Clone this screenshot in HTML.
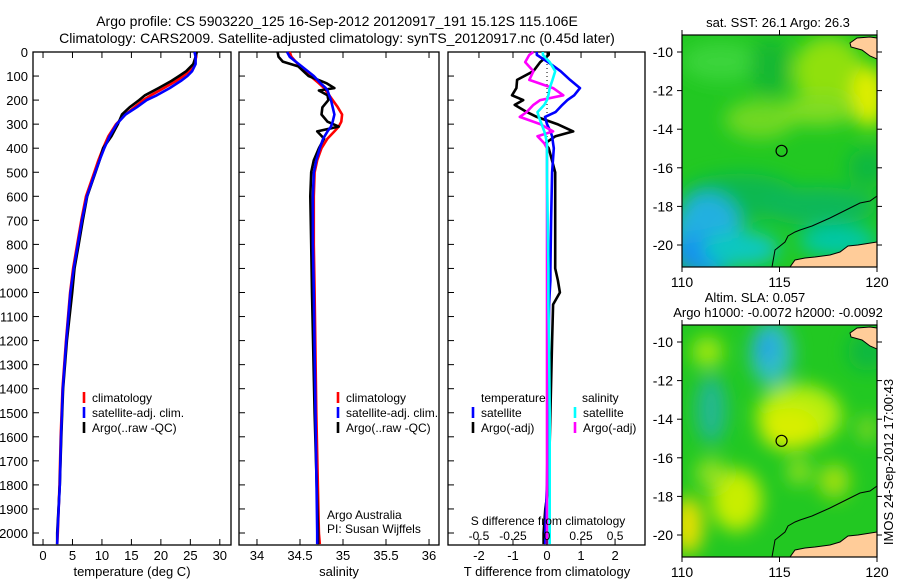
<!DOCTYPE html>
<html><head><meta charset="utf-8"><style>
html,body{margin:0;padding:0;background:#fff}
svg text{font-family:"Liberation Sans",sans-serif;fill:#000}
</style></head><body>
<svg id="fig" width="900" height="580" viewBox="0 0 900 580" xmlns="http://www.w3.org/2000/svg">
<defs>
<filter id="blur" x="-20%" y="-20%" width="140%" height="140%"><feGaussianBlur stdDeviation="9"/></filter>
<clipPath id="clipTop"><rect x="682" y="35" width="195" height="232"/></clipPath>
<clipPath id="clipBot"><rect x="682" y="325" width="195" height="232"/></clipPath>
</defs>
<text x="337" y="26" font-size="14" text-anchor="middle">Argo profile: CS 5903220_125 16-Sep-2012 20120917_191 15.12S 115.106E</text>
<text x="337" y="43" font-size="14" text-anchor="middle">Climatology: CARS2009. Satellite-adjusted climatology: synTS_20120917.nc (0.45d later)</text>
<g id="panels"></g>
<g id="maps"></g>
</svg>
<script>
// ---- data ----
const tDepths=[0,20,50,80,100,120,150,180,200,230,260,300,350,400,450,500,600,700,800,900,1000,1200,1400,1600,1800,2000,2046];
const climT=[26,26,25.7,24.8,23.8,22.6,20.5,18.3,17,15.5,14,12.4,11.1,10.2,9.4,8.7,7.3,6.5,5.8,5.1,4.6,3.9,3.3,3.0,2.8,2.5,2.4];
const satT=[25.7,25.9,25.9,25.3,24.5,23.4,21.5,19.3,17.6,15.9,14.0,12.5,11.3,10.4,9.6,8.85,7.45,6.6,5.9,5.2,4.65,3.95,3.35,3.05,2.85,2.45,2.4];
const argoT=[26.1,25.9,25.5,24.3,23.1,21.8,19.6,17.3,16.3,14.7,13.4,12.7,11.6,10.2,9.6,8.9,7.5,6.75,6.05,5.35,4.95,4.05,3.4,3.1,2.85,2.4,2.4];
const sDepths=[0,20,40,60,100,130,150,160,180,200,230,260,290,310,330,360,400,450,500,600,800,1000,1500,2000,2046];
const climS=[34.38,34.4,34.45,34.5,34.62,34.72,34.78,34.8,34.84,34.88,34.94,34.99,34.98,34.95,34.9,34.82,34.75,34.7,34.67,34.66,34.66,34.67,34.69,34.72,34.73];
const satS=[34.35,34.38,34.45,34.52,34.66,34.74,34.8,34.82,34.84,34.86,34.88,34.9,34.88,34.86,34.82,34.77,34.73,34.69,34.66,34.65,34.65,34.66,34.68,34.7,34.7];
const argoS=[34.24,34.25,34.3,34.48,34.6,34.81,34.9,34.72,34.82,34.83,34.76,34.75,34.82,34.95,34.7,34.78,34.72,34.66,34.63,34.62,34.63,34.64,34.67,34.71,34.71];
const dDepths=[0,12,42,80,116,150,180,200,220,250,270,300,330,350,380,400,500,700,900,950,1000,1050,1200,1500,1800,1900,2000,2046];
const satTd=[-0.3,-0.3,0.03,0.4,0.68,0.97,0.8,0.6,0.45,0.25,-0.06,0.0,0.1,0.15,0.18,0.2,0.15,0.12,0.1,0.1,0.08,0.06,0.05,0.03,0.0,-0.03,-0.05,-0.05];
const argoTd=[0.05,0.05,-0.2,-0.4,-0.88,-0.9,-1.03,-0.7,-0.95,-0.59,-0.3,0.3,0.77,0.25,-0.06,0.05,0.24,0.24,0.24,0.32,0.38,0.18,0.15,0.1,0.05,-0.05,-0.1,-0.1];
const satSd=[-0.03,-0.03,0.02,0.06,0.04,0.02,0.01,0.0,-0.02,-0.07,-0.06,-0.04,-0.02,-0.01,0,0,0,0.005,0.01,0.01,0.01,0.01,0.015,0.02,0.02,0.02,0.02,0.02];
const argoSd=[-0.1,-0.13,-0.16,-0.1,-0.13,0.045,0.12,-0.05,-0.1,-0.15,-0.2,-0.05,0.045,-0.07,-0.02,0,0,0,0,0,0,0,0,0,0,0,0,0];
const depthTicks=[0,100,200,300,400,500,600,700,800,900,1000,1100,1200,1300,1400,1500,1600,1700,1800,1900,2000];
const tTicks=[0,5,10,15,20,25,30];
const sTicks=[34,34.5,35,35.5,36];
const sTickLabels=["34","34.5","35","35.5","36"];
const dTTicks=[-2,-1,0,1,2];
const dSTicks=[-0.5,-0.25,0,0.25,0.5];
const dSTickLabels=["-0.5","-0.25","0","0.25","0.5"];
const lonTicks=[110,115,120];
const latTicks=[-10,-12,-14,-16,-18,-20];

const NS='http://www.w3.org/2000/svg';
function mk(tag,attrs,parent){const e=document.createElementNS(NS,tag);for(const k in attrs)e.setAttribute(k,attrs[k]);parent.appendChild(e);return e;}
const TOP=52,BOT=545;
function yD(d){return TOP+d*0.2405;}
const panels=document.getElementById('panels');

function panel(name,x0,x1,xmin,xmax){
  const g=mk('g',{},panels);
  
  
  const fx=v=>x0+(v-xmin)/(xmax-xmin)*(x1-x0);
  const r=mk('rect',{x:x0,y:TOP,width:x1-x0,height:BOT-TOP,fill:'none',stroke:'#000','stroke-width':1.3},g);
  
  
  depthTicks.forEach(d=>{mk('line',{x1:x0,x2:x0+6,y1:yD(d),y2:yD(d),stroke:'#000'},g);});
  return {g,fx};
}
function line(p,xs,ds,color,name,fx){
  const pts=xs.map((v,i)=>fx(v).toFixed(1)+','+yD(ds[i]).toFixed(1)).join(' ');
  const pl=mk('polyline',{points:pts,fill:'none',stroke:color,'stroke-width':2.6,'stroke-linejoin':'round'},p.g);
  
  
}
function xticks(p,vals,labels,y,name,fx){
  vals.forEach((v,i)=>{
    const x=fx(v);
    mk('line',{x1:x,x2:x,y1:TOP,y2:TOP+6,stroke:'#000'},p.g);
    mk('line',{x1:x,x2:x,y1:BOT,y2:BOT-6,stroke:'#000'},p.g);
    const t=mk('text',{x:x,y:y,'font-size':13,'text-anchor':'middle'},p.g);
    t.textContent=labels[i];
    
    
  });
}
function txt(parent,x,y,s,str,name,anchor){
  const t=mk('text',{x:x,y:y,'font-size':s,'text-anchor':anchor||'start'},parent);
  t.textContent=str;
  
  
  return t;
}
function legend(p,x,y,color,label,name){
  mk('line',{x1:x,x2:x,y1:y-10,y2:y+1,stroke:color,'stroke-width':2.6},p.g);
  txt(p.g,x+8,y,12,label,name);
}

// Panel 1 temperature
const p1=panel('temperature-panel',33,231,-1.7,31.9);
line(p1,climT,tDepths,'#ff0000','climatology-temp-line',p1.fx);
line(p1,argoT,tDepths,'#000000','argo-temp-line',p1.fx);
line(p1,satT,tDepths,'#0000ff','satellite-temp-line',p1.fx);
xticks(p1,tTicks,tTicks.map(String),560,'temperature-x',p1.fx);
depthTicks.forEach(d=>txt(p1.g,28,yD(d)+5,13,String(d),'depth-tick-label','end'));
txt(p1.g,132,576,13,'temperature (deg C)','temperature-axis-title','middle');
legend(p1,84,402,'#ff0000','climatology','legend-climatology');
legend(p1,84,417,'#0000ff','satellite-adj. clim.','legend-satellite');
legend(p1,84,432,'#000000','Argo(..raw -QC)','legend-argo');

// Panel 2 salinity
const p2=panel('salinity-panel',239,439,33.791,36.116);
line(p2,climS,sDepths,'#ff0000','climatology-salinity-line',p2.fx);
line(p2,argoS,sDepths,'#000000','argo-salinity-line',p2.fx);
line(p2,satS,sDepths,'#0000ff','satellite-salinity-line',p2.fx);
xticks(p2,sTicks,sTickLabels,560,'salinity-x',p2.fx);
txt(p2.g,339,576,13,'salinity','salinity-axis-title','middle');
legend(p2,338,402,'#ff0000','climatology','legend-climatology-2');
legend(p2,338,417,'#0000ff','satellite-adj. clim.','legend-satellite-2');
legend(p2,338,432,'#000000','Argo(..raw -QC)','legend-argo-2');
txt(p2.g,327,519,12,'Argo Australia','credit-argo-australia');
txt(p2.g,327,533,12,'PI: Susan Wijffels','credit-pi');

// Panel 3 differences
const p3=panel('difference-panel',448,645,-2.91,2.88);
const fxS=v=>p3.fx(v*4);
mk('line',{x1:p3.fx(0),x2:p3.fx(0),y1:TOP,y2:yD(420),stroke:'#000','stroke-dasharray':'1,3'},p3.g);
line(p3,argoTd,dDepths,'#000000','argo-temp-diff-line',p3.fx);
line(p3,satTd,dDepths,'#0000ff','satellite-temp-diff-line',p3.fx);
line(p3,argoSd,dDepths,'#ff00ff','argo-salinity-diff-line',fxS);
line(p3,satSd,dDepths,'#00ffff','satellite-salinity-diff-line',fxS);
xticks(p3,dTTicks,dTTicks.map(String),560,'temp-diff-x',p3.fx);
dSTicks.forEach((v,i)=>txt(p3.g,fxS(v),540,12,dSTickLabels[i],'salinity-diff-tick-label','middle'));
txt(p3.g,548,525,12,'S difference from climatology','salinity-diff-axis-title','middle');
txt(p3.g,547,576,13,'T difference from climatology','temp-diff-axis-title','middle');
txt(p3.g,481,402,12,'temperature','legend-temperature-header');
txt(p3.g,582,402,12,'salinity','legend-salinity-header');
legend(p3,473,417,'#0000ff','satellite','legend-temp-satellite');
legend(p3,473,432,'#000000','Argo(-adj)','legend-temp-argo');
legend(p3,575,417,'#00ffff','satellite','legend-sal-satellite');
legend(p3,575,432,'#ff00ff','Argo(-adj)','legend-sal-argo');

// ---- maps ----
const maps=document.getElementById('maps');
const mapX=lon=>682+(lon-110)*19.5;
function drawMap(name,top,clip,base,blobs){
  const g=mk('g',{},maps);
  
  
  const mapY=lat=>top+17+(-10-lat)*19.3;
  const c=mk('g',{'clip-path':'url(#'+clip+')'},g);
  mk('rect',{x:682,y:top,width:195,height:232,fill:base},c);
  const bg=mk('g',{filter:'url(#blur)'},c);
  blobs.forEach(b=>mk('ellipse',{cx:mapX(b[0]),cy:mapY(b[1]),rx:b[2]*19.5,ry:b[3]*19.3,fill:b[4]},bg));
  const dy=top-35;
  const cont=[[877,196],[870,201],[860,203],[850,208],[830,218],[812,226],[800,230],[795,232],[788,236],[785,242],[775,250],[772,267]];
  const cl=mk('polyline',{points:cont.map(p=>p[0]+','+(p[1]+dy)).join(' '),fill:'none',stroke:'#000','stroke-width':1},c);
  
  
  const land1=[[790,267],[795,260],[805,258],[815,257],[830,255],[840,252],[848,246],[858,245],[877,242],[877,267]];
  const land2=[[850,43],[857,38],[870,37],[877,38],[877,59],[870,56],[862,50],[851,47]];
  [land1,land2].forEach((L,i)=>{
    const pg=mk('polygon',{points:L.map(p=>p[0]+','+(p[1]+dy)).join(' '),fill:'#ffcc99',stroke:'#000','stroke-width':1},c);
    
    
  });
  const mk1=mk('circle',{cx:mapX(115.106),cy:mapY(-15.12),r:5.5,fill:'none',stroke:'#000','stroke-width':1.2},g);
  
  
  mk('rect',{x:682,y:top,width:195,height:232,fill:'none',stroke:'#000','stroke-width':1.2},g);
  lonTicks.forEach(l=>{
    const x=mapX(l);
    mk('line',{x1:x,x2:x,y1:top,y2:top-5,stroke:'#000'},g);
    mk('line',{x1:x,x2:x,y1:top+232,y2:top+237,stroke:'#000'},g);
    txt(g,x,top+252,14,String(l),name+'-lon-tick','middle');
  });
  latTicks.forEach(l=>{
    const y=mapY(l);
    mk('line',{x1:682,x2:677,y1:y,y2:y,stroke:'#000'},g);
    mk('line',{x1:877,x2:882,y1:y,y2:y,stroke:'#000'},g);
    txt(g,673,y+5,14,String(l),name+'-lat-tick','end');
  });
}
drawMap('sst-map',35,'clipTop','#22c822',[
 [112,-10.5,2,1,'#3ad43a'],[117.5,-11,1.8,1.8,'#90e010'],[119.6,-12.3,0.9,1.6,'#e0ee00'],
 [114,-13.5,1.8,1,'#70d820'],[117,-13,2,0.8,'#80dc20'],[114.5,-10.8,1,1.5,'#15b830'],
 [113,-17.5,3,1.2,'#10b850'],[117,-18,3,1,'#10b858'],[111.3,-19.5,1.8,2.2,'#20b0e0'],
 [111,-20.5,1.5,1,'#1890f0'],[113,-20.2,2,0.9,'#10c8c0'],[118,-19.8,2,0.8,'#00c8a8'],
 [119.5,-16,1,1,'#10b840']]);
drawMap('sla-map',325,'clipBot','#22c822',[
 [114.6,-10.6,1.1,1.7,'#30c0c0'],[114.3,-10.3,0.5,0.8,'#20a0e8'],[111.5,-13.5,0.8,1.8,'#20b890'],
 [116,-13.8,2.2,1.6,'#b8ee10'],[115.5,-14.5,1.5,1.1,'#d8ee00'],[111.3,-10.5,0.8,0.8,'#a0e810'],
 [112.8,-18.2,1.3,1.6,'#c8ee00'],[110.3,-19.5,0.8,1.5,'#e8e000'],[111.5,-16.8,0.8,0.8,'#90e020'],
 [116,-16.7,0.6,0.7,'#90e020'],[117.8,-17.2,0.8,0.9,'#a0e010'],[119.5,-14.5,0.5,0.7,'#80d820'],
 [119.5,-10.5,1,1,'#10b840']]);
txt(maps,778,27,13,'sat. SST: 26.1 Argo: 26.3','sst-map-title','middle');
txt(maps,755,302,13,'Altim. SLA: 0.057','sla-map-title','middle');
txt(maps,778,317,13,'Argo h1000: -0.0072 h2000: -0.0092','sla-map-subtitle','middle');
const imos=txt(maps,0,0,13,'IMOS 24-Sep-2012 17:00:43','imos-timestamp','middle');
imos.setAttribute('transform','translate(893,462) rotate(-90)');
</script>
</body></html>
